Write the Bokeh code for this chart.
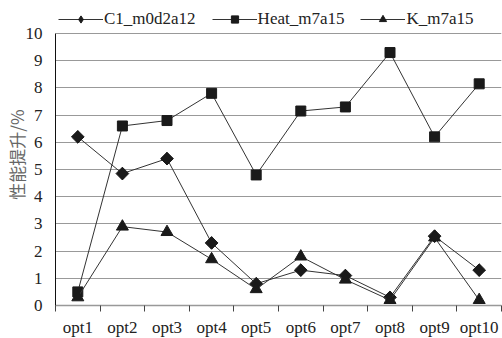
import numpy as np
from bokeh.plotting import figure
from bokeh.models import Range1d, FixedTicker, Legend, LegendItem, ColumnDataSource
from bokeh.embed import file_html
from bokeh.resources import INLINE

categories = ["opt1", "opt2", "opt3", "opt4", "opt5", "opt6", "opt7", "opt8", "opt9", "opt10"]
c1_m0d2a12 = [6.2, 4.85, 5.4, 2.3, 0.8, 1.3, 1.1, 0.3, 2.55, 1.3]
heat_m7a15 = [0.5, 6.6, 6.8, 7.8, 4.8, 7.15, 7.3, 9.3, 6.2, 8.15]
k_m7a15 = [0.3, 2.9, 2.7, 1.7, 0.6, 1.8, 0.95, 0.2, 2.5, 0.2]
y_ticks = [0, 1, 2, 3, 4, 5, 6, 7, 8, 9, 10]

FONT = "Liberation Serif"
FS = "17px"
n = len(categories)
xs = [i + 0.5 for i in range(n)]

PX_PER_UNIT = 27.2
FRAME_H = 302
y_top = FRAME_H / PX_PER_UNIT  # room above 10 for the legend

p = figure(frame_width=446, frame_height=FRAME_H, output_backend="svg", toolbar_location=None,
           x_range=Range1d(0, n), y_range=Range1d(0, y_top))
p.min_border_left = 45
p.min_border_right = 2
p.min_border_top = 3
p.min_border_bottom = 30
p.outline_line_color = None
p.background_fill_color = "white"

line_color = "#333333"
mk_color = "#1a1a1a"

src1 = ColumnDataSource(dict(x=xs, y=c1_m0d2a12, a=[np.pi / 4] * n))

r1l = p.line(xs, c1_m0d2a12, line_color=line_color, line_width=1)
# diamond (used for the legend) sits fully under the rotated square
r1leg = p.scatter("x", "y", source=src1, marker="diamond", size=12,
                  fill_color=mk_color, line_color=mk_color)
r1m = p.scatter("x", "y", source=src1, marker="square", angle="a", size=9,
                fill_color=mk_color, line_color=mk_color)
r2l = p.line(xs, heat_m7a15, line_color=line_color, line_width=1)
r2m = p.scatter(xs, heat_m7a15, marker="square", size=10, fill_color=mk_color, line_color=mk_color)
r3l = p.line(xs, k_m7a15, line_color=line_color, line_width=1)
r3m = p.scatter(xs, k_m7a15, marker="triangle", size=12, fill_color=mk_color, line_color=mk_color)

# x axis
xt = FixedTicker(ticks=xs, minor_ticks=list(range(n + 1)))
p.xaxis.ticker = xt
p.xaxis.major_label_overrides = {x: c for x, c in zip(xs, categories)}
p.xaxis.major_tick_line_color = None
p.xaxis.minor_tick_line_color = "#444444"
p.xaxis.minor_tick_in = 0
p.xaxis.minor_tick_out = 6
p.xaxis.axis_line_color = "#999999"
p.xaxis.axis_line_width = 1.5
p.xaxis.major_label_text_font = FONT
p.xaxis.major_label_text_font_size = FS
p.xaxis.major_label_text_color = "#222222"
p.xaxis.major_label_standoff = 6
p.xgrid.grid_line_color = None

# y axis
p.yaxis.ticker = FixedTicker(ticks=y_ticks)
p.yaxis.bounds = (0, 10)
p.yaxis.major_tick_line_color = None
p.yaxis.minor_tick_line_color = None
p.yaxis.axis_line_color = "#111111"
p.yaxis.axis_line_width = 1
p.yaxis.major_label_text_font = FONT
p.yaxis.major_label_text_font_size = FS
p.yaxis.major_label_text_color = "#222222"
p.yaxis.major_label_standoff = 7
p.yaxis.axis_label = "性能提升/%"
p.yaxis.axis_label_text_font = "Noto Sans CJK SC"
p.yaxis.axis_label_text_font_style = "normal"
p.yaxis.axis_label_text_font_size = FS
p.yaxis.axis_label_text_color = "#666666"
p.yaxis.axis_label_standoff = -6
p.ygrid.grid_line_color = "#999999"
p.ygrid.grid_line_width = 1

legend = Legend(items=[
    LegendItem(label="C1_m0d2a12", renderers=[r1l, r1leg]),
    LegendItem(label="Heat_m7a15", renderers=[r2l, r2m]),
    LegendItem(label="K_m7a15", renderers=[r3l, r3m]),
], orientation="horizontal", location=(3, 276))
legend.glyph_width = 45
legend.glyph_height = 18
legend.label_standoff = 1
legend.spacing = 16
legend.padding = 2
legend.margin = 0
legend.border_line_color = None
legend.background_fill_alpha = 0
legend.label_text_font = FONT
legend.label_text_font_size = FS
legend.label_text_color = "#222222"
legend.label_height = 18
p.add_layout(legend, "center")

open("out.html", "w").write(file_html(p, INLINE))
